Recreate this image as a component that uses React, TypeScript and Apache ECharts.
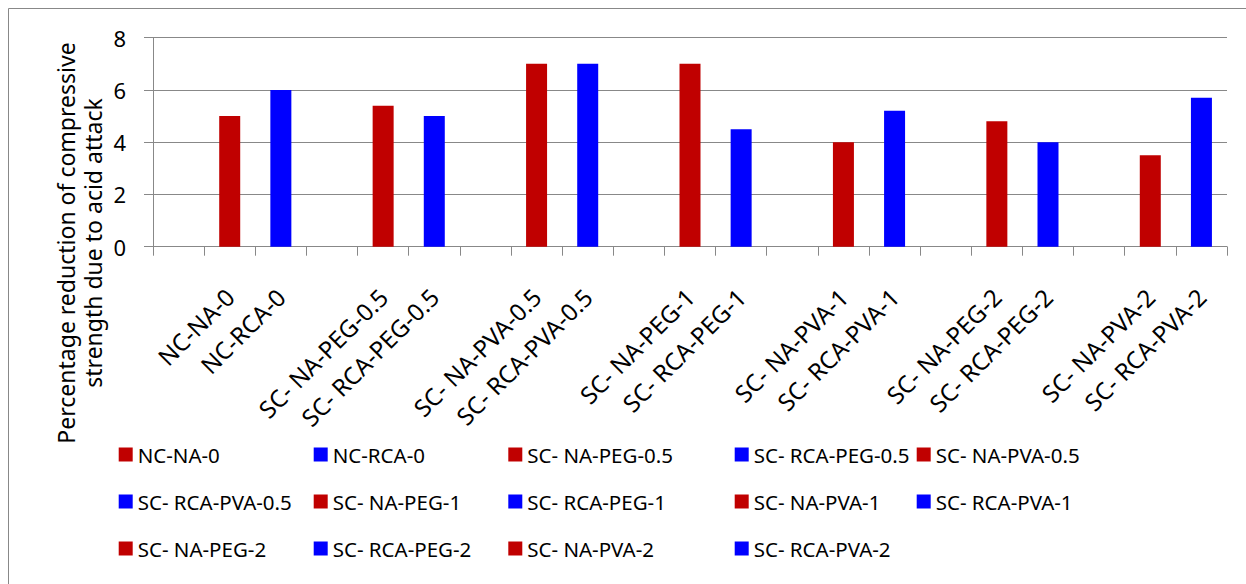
import React, { useEffect, useRef } from "react";
import * as echarts from "echarts";

const seriesNames: string[] = [
  "NC-NA-0",
  "NC-RCA-0",
  "SC- NA-PEG-0.5",
  "SC- RCA-PEG-0.5",
  "SC- NA-PVA-0.5",
  "SC- RCA-PVA-0.5",
  "SC- NA-PEG-1",
  "SC- RCA-PEG-1",
  "SC- NA-PVA-1",
  "SC- RCA-PVA-1",
  "SC- NA-PEG-2",
  "SC- RCA-PEG-2",
  "SC- NA-PVA-2",
  "SC- RCA-PVA-2",
];
const values: number[] = [5.0, 6.0, 5.4, 5.0, 7.0, 7.0, 7.0, 4.5, 4.0, 5.2, 4.8, 4.0, 3.5, 5.7];
const yMin = 0;
const yMax = 8;
const yInterval = 2;
const yTitle = "Percentage reduction of compressive\nstrength due to acid attack";

const RED = "#C00000";
const BLUE = "#0000FF";
const GRAY = "#888888";
const FONT = "Noto Sans";

export default function App() {
  const ref = useRef<HTMLDivElement>(null);
  useEffect(() => {
    if (!ref.current) return;
    const chart = echarts.init(ref.current, undefined, { renderer: "svg" });

    // category slots: an empty slot before every pair
    const axisCats: string[] = [];
    const slotOf: number[] = [];
    seriesNames.forEach((n, i) => {
      if (i % 2 === 0) axisCats.push("");
      slotOf.push(axisCats.length);
      axisCats.push(n);
    });

    const series = seriesNames.map((name, i) => {
      const data: (number | string)[] = axisCats.map(() => "-");
      data[slotOf[i]] = values[i];
      return {
        name,
        type: "bar",
        data,
        barWidth: 21,
        barGap: "-100%",
        itemStyle: { color: i % 2 === 0 ? RED : BLUE },
      };
    });

    const colX = [118.7, 313.7, 508.3, 734.7, 916.7];
    const legends = colX.map((x, c) => ({
      orient: "vertical",
      left: x,
      top: 444,
      padding: 0,
      itemWidth: 14,
      itemHeight: 14,
      itemGap: 26,
      icon: "rect",
      selectedMode: false,
      textStyle: { fontSize: 20.5, fontFamily: FONT, color: "#000" },
      data: [c, c + 5, c + 10].filter((k) => k < seriesNames.length).map((k) => seriesNames[k]),
    }));

    chart.setOption({
      animation: false,
      textStyle: { fontFamily: FONT },
      grid: { left: 153, right: 19, top: 37.7, bottom: 337.3, containLabel: false },
      legend: legends,
      graphic: [
        {
          type: "rect",
          shape: { x: 8.5, y: 8.5, width: 1400, height: 800 },
          style: { fill: "none", stroke: GRAY, lineWidth: 1 },
          silent: true,
        },
        {
          type: "text",
          x: 79,
          y: 243,
          rotation: Math.PI / 2,
          style: {
            text: yTitle,
            fontSize: 23,
            fontFamily: FONT,
            fill: "#000",
            align: "center",
            verticalAlign: "middle",
            lineHeight: 27,
          },
        },
      ],
      xAxis: {
        type: "category",
        data: axisCats,
        axisLine: { show: true, lineStyle: { color: GRAY, width: 1 } },
        axisTick: { show: true, interval: 0, length: 9, lineStyle: { color: GRAY } },
        axisLabel: {
          interval: 0,
          rotate: 45,
          margin: 46,
          fontSize: 24,
          fontFamily: FONT,
          color: "#000",
        },
      },
      yAxis: {
        type: "value",
        min: yMin,
        max: yMax,
        interval: yInterval,
        axisLine: { show: true, lineStyle: { color: GRAY, width: 1 } },
        axisTick: { show: true, length: 9, lineStyle: { color: GRAY } },
        axisLabel: { margin: 27, fontSize: 22, fontFamily: FONT, color: "#000" },
        splitLine: { show: true, lineStyle: { color: GRAY, width: 1 } },
      },
      series,
    });
    return () => chart.dispose();
  }, []);
  return (
    <div
      ref={ref}
      style={{ position: "absolute", left: 0, top: 0, width: 1246, height: 584 }}
    />
  );
}
